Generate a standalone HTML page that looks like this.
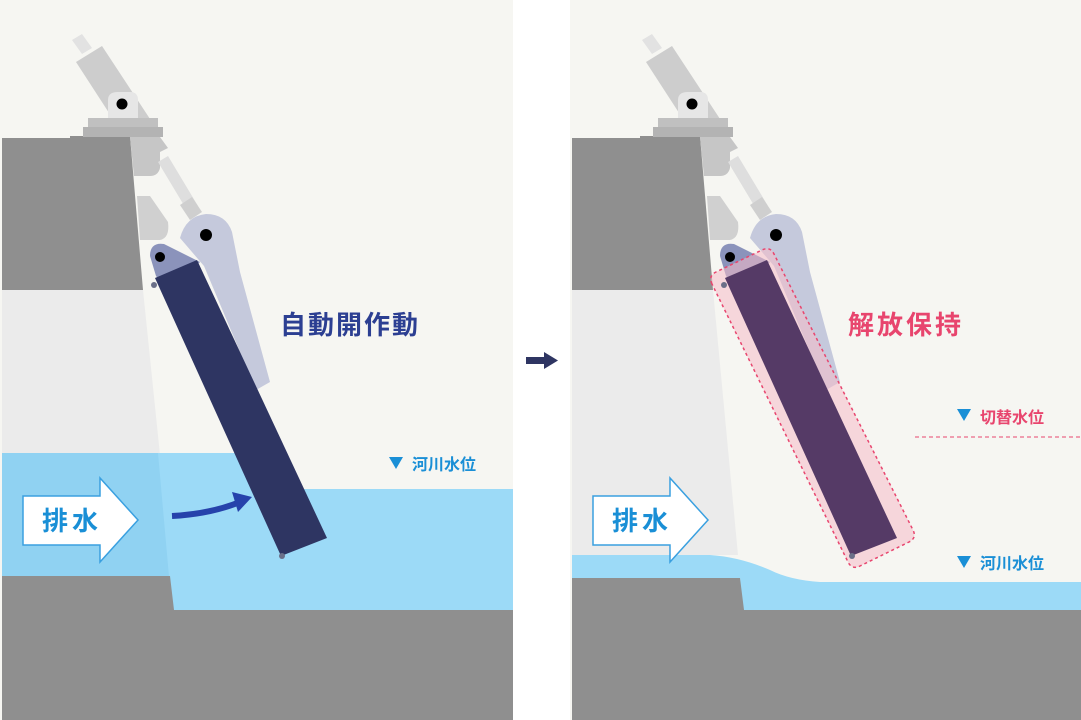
<!DOCTYPE html>
<html><head><meta charset="utf-8"><style>
html,body{margin:0;padding:0;background:#fff;}
svg{display:block}
text{font-family:"Liberation Sans","Noto Sans CJK JP",sans-serif;font-weight:bold}
</style></head><body>
<svg width="1081" height="720" viewBox="0 0 1081 720" xmlns="http://www.w3.org/2000/svg">
<rect width="1081" height="720" fill="#ffffff"/>
<defs>
<g id="mech">
  <polygon points="72,40 82,34 92,48 82,54" fill="#e2e2e2"/>
  <polygon points="76,62 102,46 152,122 124,136" fill="#cdcdcd"/>
  <path d="M108,118 L108,100 Q108,92 118,92 L130,92 Q138,92 138,100 L138,118 Z" fill="#e6e6e6"/>
  <circle cx="122" cy="104" r="5.5" fill="#000"/>
  <rect x="88" y="118" width="70" height="10" fill="#c0c0c0"/>
  <rect x="83" y="127" width="80" height="10" fill="#b3b3b3"/>
  <path d="M130,137 L160,137 L168,148 L160,152 L160,168 Q158,176 150,176 L134,176 Z" fill="#c6c6c6"/>
  <polygon points="158,162 168,156 198,206 188,212" fill="#dedede"/>
  <polygon points="180,205 192,197 202,212 190,220" fill="#cfcfcf"/>
  <path d="M137,196 L150,196 L168,222 Q170,238 160,240 L140,240 Z" fill="#d0d0d0"/>
</g>
</defs>

<!-- ========== LEFT PANEL ========== -->
<rect x="0" y="0" width="513" height="720" fill="#f6f6f2"/>
<polygon points="2,290 143,290 160,455 2,455" fill="#ebebeb"/>
<polygon points="2,138 70,138 70,136 130,136 143,290 2,290" fill="#8f8f8f"/>
<rect x="2" y="453" width="168" height="125" fill="#90d2f2"/>
<polygon points="158,453 270,453 290,489 513,489 513,610 172,610 158,453" fill="#9cdaf7"/>
<polygon points="2,576 170,576 174,610 513,610 513,720 2,720" fill="#8f8f8f"/>
<use href="#mech"/>
<path d="M180,238 Q186,216 206,214 Q226,214 232,232 L240,272 L270,382 L256,390 L204,266 Z" fill="#c5c9dc"/>
<circle cx="206" cy="235" r="6" fill="#000"/>
<path d="M150,256 Q150,242 164,244 L200,262 L170,292 L156,276 Z" fill="#8b93bb"/>
<circle cx="160" cy="257" r="5" fill="#000"/>
<polygon points="155,278 197,260 327,538 281,556" fill="#2e3562"/>
<circle cx="154" cy="285" r="3" fill="#6a6f88"/>
<circle cx="282" cy="556" r="3" fill="#6a6f88"/>
<path d="M172,516 Q210,514 240,502" stroke="#2642ab" stroke-width="6" fill="none"/>
<polygon points="232,492 252,497 238,512" fill="#2642ab"/>
<polygon points="23,496 100,496 100,478 138,520 100,562 100,545 23,545" fill="#fff" stroke="#3aa0e0" stroke-width="1.5"/>
<text x="72" y="530" font-size="26" fill="#1a8fd6" text-anchor="middle" letter-spacing="4">排水</text>
<text x="280" y="334" font-size="26" fill="#2c3f92" letter-spacing="2">自動開作動</text>
<polygon points="389,457 403,457 396,469" fill="#1a8fd6"/>
<text x="412" y="470" font-size="16" fill="#1a8fd6">河川水位</text>

<rect x="526" y="357" width="20" height="7" fill="#2e3562"/>
<polygon points="544,352 558,360.5 544,369" fill="#2e3562"/>

<!-- ========== RIGHT PANEL ========== -->
<g transform="translate(570,0)">
<rect x="0" y="0" width="511" height="720" fill="#f6f6f2"/>
<polygon points="2,290 143,290 168,555 2,555" fill="#ebebeb"/>
<polygon points="2,138 70,138 70,136 130,136 143,290 2,290" fill="#8f8f8f"/>
<path d="M2,555 L140,555 Q170,557 200,570 Q220,580 250,582 L511,582 L511,610 L172,610 L170,578 L2,578 Z" fill="#9cdaf7"/>
<polygon points="2,578 170,578 174,610 511,610 511,720 2,720" fill="#8f8f8f"/>
<use href="#mech"/>
<path d="M180,238 Q186,216 206,214 Q226,214 232,232 L240,272 L270,382 L256,390 L204,266 Z" fill="#c5c9dc"/>
<circle cx="206" cy="235" r="6" fill="#000"/>
<path d="M150,256 Q150,242 164,244 L200,262 L170,292 L156,276 Z" fill="#8b93bb"/>
<circle cx="160" cy="257" r="5" fill="#000"/>
<path d="M142,284 Q138,276 146,272 L192,250 Q200,246 204,254 L343,530 Q347,538 339,542 L290,566 Q282,570 278,562 Z" fill="#f5bcc8" fill-opacity="0.55" stroke="#e8456e" stroke-width="1.5" stroke-dasharray="3,3"/>
<polygon points="155,278 197,260 327,538 281,556" fill="#553a66"/>
<circle cx="154" cy="285" r="3" fill="#6a6f88"/>
<circle cx="282" cy="556" r="3" fill="#6a6f88"/>
<polygon points="23,496 100,496 100,478 138,520 100,562 100,545 23,545" fill="#fff" stroke="#3aa0e0" stroke-width="1.5"/>
<text x="72" y="530" font-size="26" fill="#1a8fd6" text-anchor="middle" letter-spacing="4">排水</text>
<text x="278" y="334" font-size="26" fill="#e8456e" letter-spacing="3">解放保持</text>
<polygon points="387,409 401,409 394,421" fill="#1a8fd6"/>
<text x="410" y="423" font-size="16" fill="#e8456e">切替水位</text>
<line x1="345" y1="437" x2="511" y2="437" stroke="#e8456e" stroke-width="1" stroke-dasharray="4,3"/>
<polygon points="387,556 401,556 394,568" fill="#1a8fd6"/>
<text x="410" y="569" font-size="16" fill="#1a8fd6">河川水位</text>
</g>
</svg>
</body></html>
